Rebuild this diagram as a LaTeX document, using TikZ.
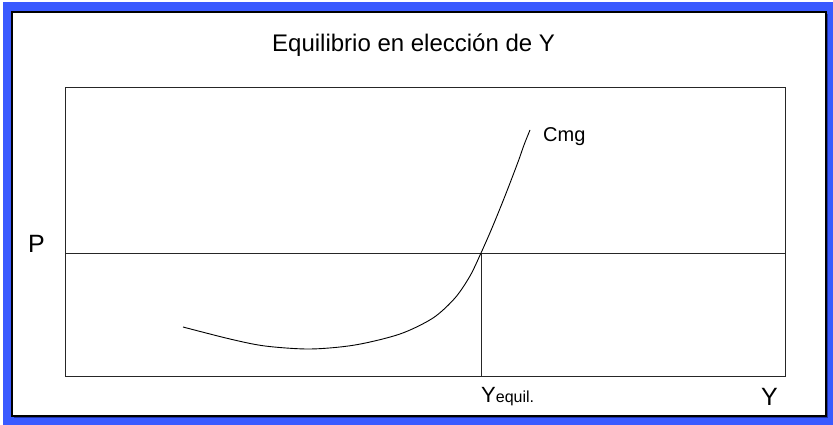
\documentclass[tikz,border=0pt]{standalone}
\usepackage{fontspec}
\setmainfont{Liberation Sans}
\usepackage{tikz}
\usetikzlibrary{calc,positioning}
\definecolor{frameblue}{RGB}{58,90,255}
\definecolor{shadowblue}{RGB}{30,50,170}
\tikzset{
  label/.style={inner sep=0pt,anchor=base west},
  axis/.style={line width=1pt,black!85}
}
\begin{document}
\begin{tikzpicture}[x=1pt,y=-1pt]
    \useasboundingbox (0,0) rectangle (833,425);
    % blue frame
    \fill[frameblue] (3,2) rectangle (833,425);
    \fill[shadowblue] (14,14) rectangle (828,418);
    \draw[fill=white,line width=1.5pt] (12,12) rectangle (826,416);
    % title
    \node[label,font=\fontsize{24}{28}\selectfont] (title) at (272,52) {Equilibrio en elección de Y};
    % plot box
    \draw[axis] (65,88) rectangle (785,376);
    \coordinate (pl) at (65,253);
    \coordinate (pr) at (785,253);
    \coordinate (eq) at (481,253);
    \coordinate (eqb) at (481,376);
    % price line
    \draw[axis] (pl) -- (pr);
    % equilibrium line
    \draw[axis] (eq) -- (eqb);
    % marginal cost curve
    \draw[line width=0.9pt] plot[smooth,tension=0.5] coordinates {(183,327) (230,339) (265,346) (310,349) (355,345) (400,334) (433,318) (455,298) (470,276) (481,253) (492,228) (505,196) (518,162) (524,145) (530,130)};
    % text nodes
    \node[label,font=\fontsize{20}{24}\selectfont] (cmg) at (543,141.5) {Cmg};
    \node[label,font=\fontsize{25}{30}\selectfont] (p) at (28,252) {P};
    \node[label,font=\fontsize{25}{30}\selectfont] (y) at (761,405.5) {Y};
    \node[label] (yeq) at (481,402) {\fontsize{22}{26}\selectfont Y\fontsize{16}{20}\selectfont equil.};
\end{tikzpicture}
\end{document}
